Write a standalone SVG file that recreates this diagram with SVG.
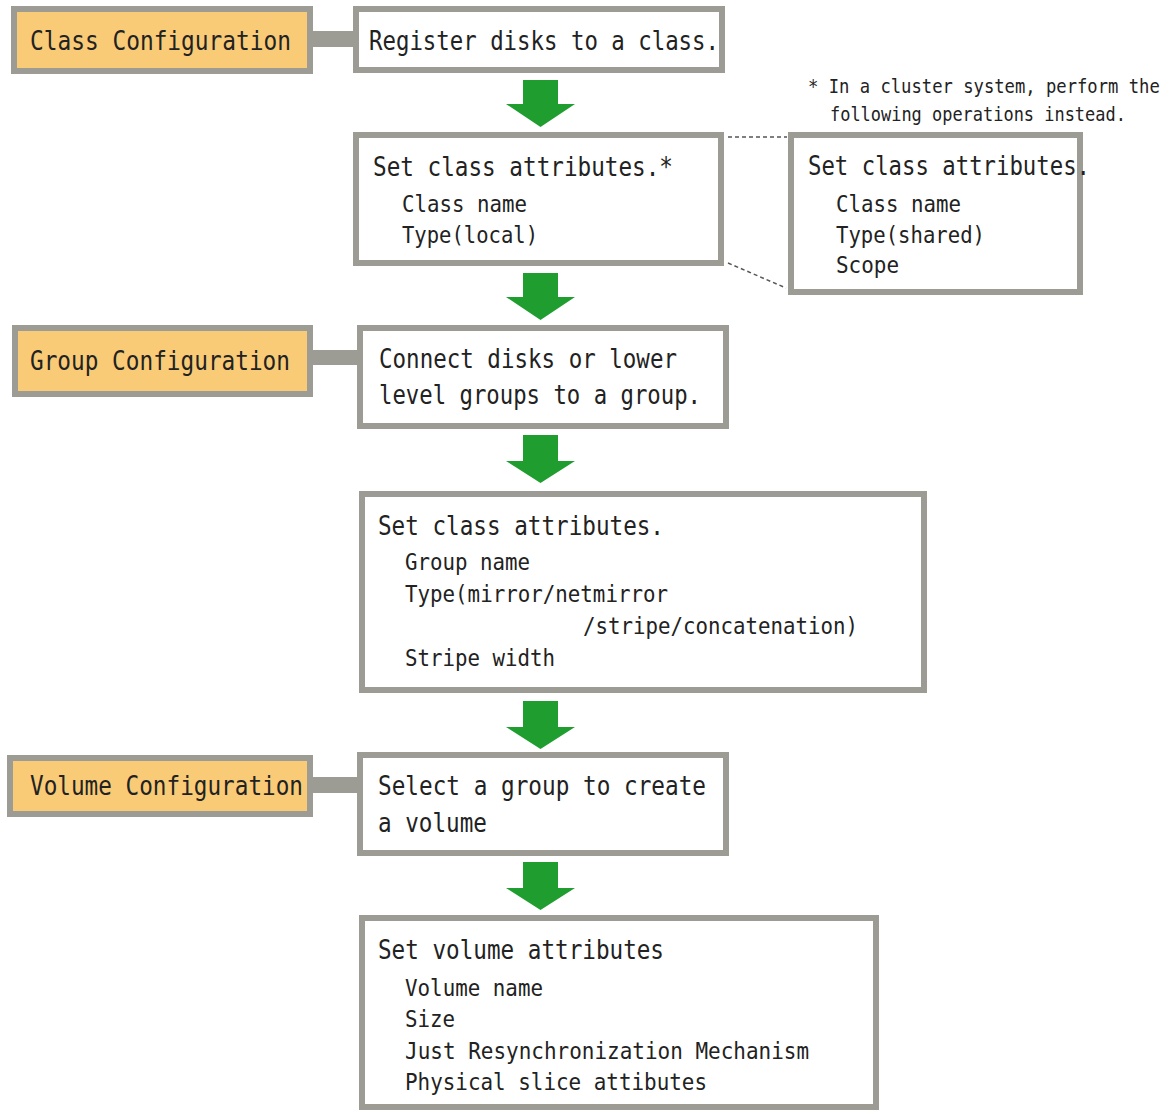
<svg xmlns="http://www.w3.org/2000/svg" width="1175" height="1110" viewBox="0 0 1175 1110">
<style>
.lbl{fill:#f9cb77;stroke:#9c9c94;stroke-width:6}
.box{fill:#ffffff;stroke:#9c9c94;stroke-width:6}
.bar{fill:#9c9c94}
.arr{fill:#1f9e2f}
.dash{stroke:#555;stroke-width:1.5;stroke-dasharray:4 3;fill:none}
text{font-family:"DejaVu Sans Mono","Liberation Mono",monospace;fill:#222}
.t{font-size:26px}
.s{font-size:23px}
.n{font-size:19px}
</style>
<rect width="1175" height="1110" fill="#ffffff"/>
<g id="connectors">
<rect class="bar" x="312" y="31" width="44" height="16"/>
<rect class="bar" x="312" y="350" width="47" height="15"/>
<rect class="bar" x="312" y="777" width="47" height="16"/>
<polygon class="arr" points="523,80 558,80 558,104 575,104 540.5,127 506,104 523,104"/>
<polygon class="arr" points="523,273 558,273 558,297 575,297 540.5,320 506,297 523,297"/>
<polygon class="arr" points="523,435 558,435 558,461 575,461 540.5,483 506,461 523,461"/>
<polygon class="arr" points="523,701 558,701 558,727 575,727 540.5,749 506,727 523,727"/>
<polygon class="arr" points="523,862 558,862 558,888 575,888 540.5,910 506,888 523,888"/>
<line class="dash" x1="728" y1="137" x2="787" y2="137"/>
<line class="dash" x1="728" y1="263" x2="786" y2="288"/>
</g>
<g id="class-config">
<rect class="lbl" x="14" y="9" width="296" height="62"/>
<text class="t" x="30" y="50" textLength="261" lengthAdjust="spacingAndGlyphs">Class Configuration</text>
</g>
<g id="register">
<rect class="box" x="356" y="9" width="366" height="61"/>
<text class="t" x="369" y="50" textLength="350" lengthAdjust="spacingAndGlyphs">Register disks to a class.</text>
</g>
<g id="class-attr-local">
<rect class="box" x="356" y="135" width="365" height="128"/>
<text class="t" x="373" y="176" textLength="300" lengthAdjust="spacingAndGlyphs">Set class attributes.*</text>
<text class="s" x="402" y="212" textLength="125" lengthAdjust="spacingAndGlyphs">Class name</text>
<text class="s" x="402" y="243" textLength="136" lengthAdjust="spacingAndGlyphs">Type(local)</text>
</g>
<g id="note">
<text class="n" transform="translate(808,93) scale(0.905,1)">* In a cluster system, perform the</text>
<text class="n" transform="translate(830,121) scale(0.892,1)">following operations instead.</text>
</g>
<g id="class-attr-shared">
<rect class="box" x="791" y="135" width="289" height="157"/>
<text class="t" x="808" y="175" textLength="282" lengthAdjust="spacingAndGlyphs">Set class attributes.</text>
<text class="s" x="836" y="212" textLength="125" lengthAdjust="spacingAndGlyphs">Class name</text>
<text class="s" x="836" y="243" textLength="149" lengthAdjust="spacingAndGlyphs">Type(shared)</text>
<text class="s" x="836" y="273" textLength="63" lengthAdjust="spacingAndGlyphs">Scope</text>
</g>
<g id="group-config">
<rect class="lbl" x="15" y="328" width="295" height="66"/>
<text class="t" x="30" y="370" textLength="260" lengthAdjust="spacingAndGlyphs">Group Configuration</text>
</g>
<g id="connect">
<rect class="box" x="360" y="328" width="366" height="98"/>
<text class="t" x="379" y="368" textLength="298" lengthAdjust="spacingAndGlyphs">Connect disks or lower</text>
<text class="t" x="379" y="404" textLength="322" lengthAdjust="spacingAndGlyphs">level groups to a group.</text>
</g>
<g id="group-attr">
<rect class="box" x="362" y="494" width="562" height="196"/>
<text class="t" x="378" y="535" textLength="286" lengthAdjust="spacingAndGlyphs">Set class attributes.</text>
<text class="s" x="405" y="570" textLength="125" lengthAdjust="spacingAndGlyphs">Group name</text>
<text class="s" x="405" y="602" textLength="263" lengthAdjust="spacingAndGlyphs">Type(mirror/netmirror</text>
<text class="s" x="583" y="634" textLength="275" lengthAdjust="spacingAndGlyphs">/stripe/concatenation)</text>
<text class="s" x="405" y="666" textLength="150" lengthAdjust="spacingAndGlyphs">Stripe width</text>
</g>
<g id="volume-config">
<rect class="lbl" x="10" y="758" width="300" height="56"/>
<text class="t" x="30" y="795" textLength="273" lengthAdjust="spacingAndGlyphs">Volume Configuration</text>
</g>
<g id="select">
<rect class="box" x="360" y="755" width="366" height="98"/>
<text class="t" x="378" y="795" textLength="328" lengthAdjust="spacingAndGlyphs">Select a group to create</text>
<text class="t" x="378" y="832" textLength="109" lengthAdjust="spacingAndGlyphs">a volume</text>
</g>
<g id="volume-attr">
<rect class="box" x="362" y="918" width="514" height="189"/>
<text class="t" x="378" y="959" textLength="286" lengthAdjust="spacingAndGlyphs">Set volume attributes</text>
<text class="s" x="405" y="996" textLength="138" lengthAdjust="spacingAndGlyphs">Volume name</text>
<text class="s" x="405" y="1027" textLength="50" lengthAdjust="spacingAndGlyphs">Size</text>
<text class="s" x="405" y="1059" textLength="404" lengthAdjust="spacingAndGlyphs">Just Resynchronization Mechanism</text>
<text class="s" x="405" y="1090" textLength="302" lengthAdjust="spacingAndGlyphs">Physical slice attibutes</text>
</g>
</svg>
